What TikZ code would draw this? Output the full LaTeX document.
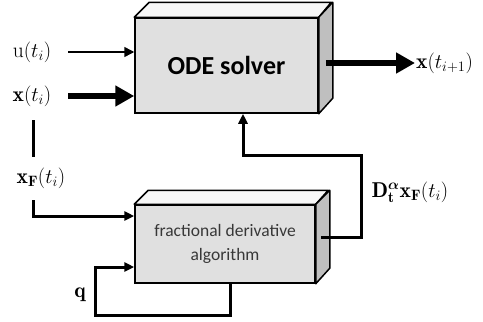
\documentclass[tikz,border=0pt]{standalone}
\usepackage{fontspec}
\usepackage{amsmath,bm}
\newfontfamily\boxfont{Carlito}
\usetikzlibrary{arrows.meta,calc}

\tikzset{
  frontface/.style={draw=black, line width=1.5pt, fill=black!12, inner sep=0pt},
  topface/.style={draw=black, line width=1.5pt, fill=black!3, line join=round},
  sideface/.style={draw=black, line width=1.5pt, fill=black!25, line join=round},
  signal/.style={font=\fontsize{21.5}{25}\selectfont, inner sep=1pt},
  thinarrow/.style={line width=1.5pt, -{Triangle[length=10pt,width=10pt]}},
  thickarrow/.style={line width=6pt, -{Triangle[length=19pt,width=20pt]}},
  feedline/.style={line width=3pt, line join=miter},
  feedarrow/.style={feedline, -{Triangle[length=10pt,width=9pt]}}
}

\begin{document}
\begin{tikzpicture}[x=1pt, y=-1pt]
\useasboundingbox (0,0) rectangle (483,322);

% ODE solver block (front face plus top and side faces)
\node[frontface, minimum width=183pt, minimum height=95pt,
      font=\boxfont\bfseries\fontsize{26}{30}\selectfont] (ode) at (226.5,65.5) {ODE solver};
\draw[topface] (ode.north west) -- ++(15,-15) -- ++(182,0) -- (ode.north east) -- cycle;
\draw[sideface] (ode.north east) -- ++(14,-15) -- ++(0,96) -- (ode.south east) -- cycle;

% fractional derivative block
\node[frontface, minimum width=180pt, minimum height=78pt, align=center,
      text=black!78, font=\boxfont\fontsize{17.5}{24}\selectfont] (frac) at (225,244)
      {fractional derivative\\algorithm};
\draw[topface] (frac.north west) -- ++(14,-14) -- ++(180,0) -- (frac.north east) -- cycle;
\draw[sideface] (frac.north east) -- ++(14,-14) -- ++(0,78) -- (frac.south east) -- cycle;

% signal labels
\node[signal] (ulab) at (32,52) {$\mathrm{u}(t_i)$};
\node[signal] (xlab) at (32,96) {$\mathbf{x}(t_i)$};
\node[signal] (xflab) at (41,178) {$\mathbf{x}_{\mathbf{F}}(t_i)$};
\node[signal] (qlab) at (80,295) {$\mathbf{q}$};
\node[signal] (dlab) at (410,192) {$\mathbf{D}_{\mathbf{t}}^{\bm{\alpha}}\mathbf{x}_{\mathbf{F}}(t_i)$};
\node[signal, anchor=west] (xout) at (415,63) {$\mathbf{x}(t_{i+1})$};

% auxiliary points
\coordinate (xdown) at (33,120);
\coordinate (xfup) at (33,157);
\coordinate (xfdown) at (33,200);
\coordinate (xfin) at (33,216);
\coordinate (qa) at (230,315);
\coordinate (qb) at (95,315);
\coordinate (qc) at (95,267);
\coordinate (da) at (361,237);
\coordinate (db) at (361,155);
\coordinate (dc) at (243,155);

% inputs of the ODE solver
\draw[thinarrow] (68,52) -- (ode.west |- 0,52);
\draw[thickarrow] (68,96) -- (ode.west |- 0,96);
\draw[thickarrow] (ode.east |- 0,63) ++(7,0) -- (xout.west);

% history signal to the fractional block
\draw[line width=3pt] (xdown) -- (xfup);
\draw[feedarrow] (xfdown) -- (xfin) -- (frac.west |- xfin);

% parameter loop
\draw[feedarrow] (frac.south -| qa) -- (qa) -- (qb) -- (qc) -- (frac.west |- qc);

% fractional derivative fed back to the solver
\draw[feedarrow] (frac.east |- da) ++(5,0) -- (da) -- (db) -- (dc) -- (ode.south -| dc);
\end{tikzpicture}
\end{document}
